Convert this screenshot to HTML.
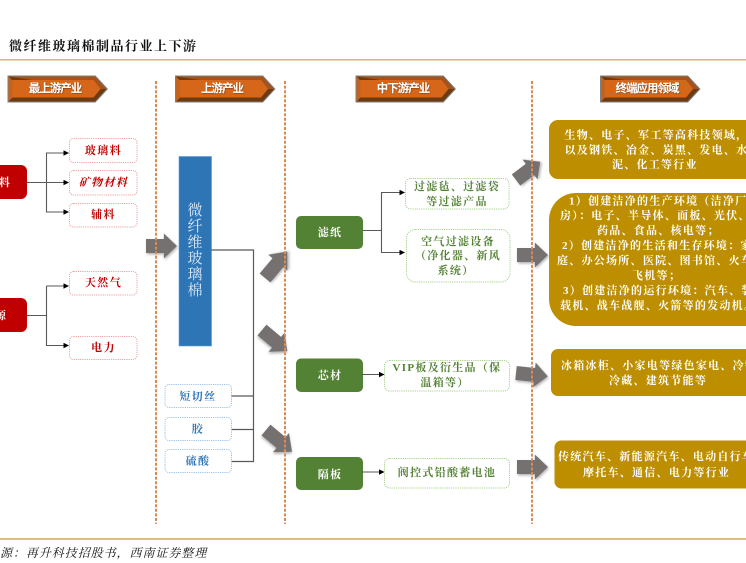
<!DOCTYPE html>
<html lang="zh">
<head>
<meta charset="utf-8">
<style>
html,body{margin:0;padding:0;background:#fff;width:746px;height:563px;overflow:hidden}
svg{display:block}
text{font-family:"Liberation Serif","Noto Serif CJK SC",serif;dominant-baseline:central}
.b{font-family:"Liberation Sans","Noto Sans CJK SC",sans-serif;font-size:11.5px;font-weight:700;fill:#fff;text-anchor:middle;letter-spacing:-1px;filter:url(#ts)}
.r{font-size:11px;font-weight:700;fill:#c00000;text-anchor:middle;letter-spacing:1.4px}
.bl{font-size:11px;font-weight:700;fill:#2e75b6;text-anchor:middle;letter-spacing:1.4px}
.g{font-size:11px;font-weight:700;fill:#548235;text-anchor:middle;letter-spacing:1.3px}
.w{font-size:11px;font-weight:700;fill:#fff;text-anchor:middle;letter-spacing:1.2px}
.y{font-size:11px;font-weight:700;fill:#fff;letter-spacing:1.26px}
.l{fill:none;stroke:#595959;stroke-width:1.1}
.dash{stroke:#d98b55;stroke-width:2;stroke-dasharray:3 1.6;fill:none}
.pr{fill:#fff;stroke:#eca3a3;stroke-width:1;stroke-dasharray:1.2 1}
.pb{fill:#fff;stroke:#9dc3e6;stroke-width:1;stroke-dasharray:1.2 1}
.pg{fill:#fff;stroke:#a9d18e;stroke-width:1;stroke-dasharray:1.2 1}
.bar{fill:#bd8f00}
.ar{fill:#767171;filter:url(#ds)}
</style>
</head>
<body>
<svg width="746" height="563" viewBox="0 0 746 563" xmlns="http://www.w3.org/2000/svg">
<defs>
<filter id="ds" x="-30%" y="-30%" width="170%" height="170%"><feDropShadow dx="1" dy="1.5" stdDeviation="1.4" flood-color="#000" flood-opacity=".3"/></filter>
<filter id="ts" x="-10%" y="-20%" width="120%" height="140%"><feDropShadow dx=".5" dy=".5" stdDeviation=".4" flood-color="#5a2a00" flood-opacity=".8"/></filter>
<marker id="m" viewBox="0 0 6 6" refX="5.5" refY="3" markerWidth="5.5" markerHeight="5.5" markerUnits="userSpaceOnUse" orient="auto"><path d="M0 0L6 3L0 6z" fill="#000"/></marker>
<g id="ban">
<polygon points="0,0 88,0 100.5,13.5 88,27 0,27" fill="#7f7f7f"/>
<polygon points="1,1 87.5,1 99,13.5 87.5,26 1,26" fill="#6e3a10"/>
<polygon points="1,1 87.5,1 99,13.5 86,13.5" fill="#a4541a"/>
<polygon points="1,1 5,5 5,22 1,26" fill="#c4631d"/>
<polygon points="5,4.5 86,4.5 93,13.5 86,22 5,22" fill="#d5661a"/>
</g>
<polygon id="a" points="0,-7 19,-7 19,-12.500 33,0 19,12.500 19,7 0,7"/>
</defs>

<text x="9" y="46" style="font-size:13px;font-weight:700;letter-spacing:1.5px;fill:#111">微纤维玻璃棉制品行业上下游</text>
<rect x="0" y="59" width="746" height="1.5" fill="#d8b283"/>
<rect x="0" y="538" width="746" height="2" fill="#dcbb87"/>
<text x="0" y="553" style="font-size:12px;font-style:italic;letter-spacing:.95px;fill:#111">源：再升科技招股书，西南证券整理</text>

<use href="#ban" x="7.5" y="75.5"/>
<use href="#ban" x="175" y="75.5"/>
<use href="#ban" x="355.5" y="75.5"/>
<use href="#ban" x="600" y="75.5"/>
<text class="b" x="55" y="89">最上游产业</text>
<text class="b" x="222" y="89">上游产业</text>
<text class="b" x="403" y="89">中下游产业</text>
<text class="b" x="647" y="89">终端应用领域</text>

<!-- left red -->
<rect x="-12" y="165" width="39" height="34" rx="6" fill="#c00000"/>
<rect x="-12" y="298" width="39" height="34" rx="6" fill="#c00000"/>
<text class="w" x="5" y="183">料</text>
<text class="w" x="1" y="316">源</text>
<path class="l" d="M27 182.500H46.500"/>
<path class="l" d="M27 315.500H46.500"/>
<path class="l" d="M68.500 153H46.500V212H68.500" marker-end="url(#m)"/>
<path class="l" d="M46.500 153H68.500" marker-end="url(#m)"/>
<path class="l" d="M46.500 182.500H68.500" marker-end="url(#m)"/>
<path class="l" d="M46.500 286H68.500" marker-end="url(#m)"/>
<path class="l" d="M46.500 286V345.500H68.500" marker-end="url(#m)"/>
<rect class="pr" x="69.500" y="138.500" width="67.500" height="24" rx="4"/>
<rect class="pr" x="69.500" y="170.500" width="67.500" height="24.500" rx="4"/>
<rect class="pr" x="69.500" y="203.500" width="67.500" height="23.500" rx="4"/>
<rect class="pr" x="69.500" y="271.500" width="67.500" height="23.500" rx="4"/>
<rect class="pr" x="69.500" y="336.500" width="67.500" height="23" rx="4"/>
<text class="r" x="103.500" y="151">玻璃料</text>
<text class="r" x="103.500" y="183" style="font-style:italic">矿物材料</text>
<text class="r" x="103.500" y="215">辅料</text>
<text class="r" x="103.500" y="283">天然气</text>
<text class="r" x="103.500" y="348">电力</text>

<!-- blue -->
<rect x="179" y="156.500" width="32.500" height="189.500" fill="#2e75b6" stroke="#5b9bd5" stroke-width=".6"/>
<g style="font-size:15px;fill:#dce9f5" text-anchor="middle">
<text x="195" y="211">微</text><text x="195" y="227">纤</text><text x="195" y="243">维</text>
<text x="195" y="259">玻</text><text x="195" y="275">璃</text><text x="195" y="291">棉</text>
</g>
<path class="l" d="M211.500 250H253.500V461.500H231.500M231.500 396H253.500M231.500 429.500H253.500" style="stroke-width:1.2"/>
<rect class="pb" x="165" y="384.500" width="66.500" height="23" rx="4"/>
<rect class="pb" x="165" y="417.500" width="66.500" height="23" rx="4"/>
<rect class="pb" x="165" y="449.500" width="66.500" height="23" rx="4"/>
<text class="bl" x="198" y="397">短切丝</text>
<text class="bl" x="198" y="429.500">胶</text>
<text class="bl" x="198" y="461.500">硫酸</text>

<!-- green -->
<rect x="296" y="216" width="67" height="33" rx="5" fill="#548235"/>
<rect x="296" y="358.500" width="67" height="33.500" rx="5" fill="#548235"/>
<rect x="296" y="457" width="67" height="33" rx="5" fill="#548235"/>
<text class="w" x="330" y="233">滤纸</text>
<text class="w" x="330" y="376">芯材</text>
<text class="w" x="330" y="475">隔板</text>
<path class="l" d="M363 230.500H381.500"/>
<path class="l" d="M404.500 192.500H381.500V252.500H404.500" marker-end="url(#m)"/>
<path class="l" d="M381.500 192.500H404.500" marker-end="url(#m)"/>
<path class="l" d="M361 374.500H384" marker-end="url(#m)"/>
<path class="l" d="M361 472H384" marker-end="url(#m)"/>
<rect class="pg" x="405.500" y="178.500" width="103.500" height="30.500" rx="5"/>
<rect class="pg" x="406.500" y="229.500" width="103.500" height="52.500" rx="9"/>
<rect class="pg" x="384.500" y="360.500" width="125" height="30.500" rx="5"/>
<rect class="pg" x="384.500" y="458.500" width="125" height="29.500" rx="5"/>
<text class="g" x="457" y="187">过滤毡、过滤袋</text>
<text class="g" x="457" y="202">等过滤产品</text>
<text class="g" x="458" y="242">空气过滤设备</text>
<text class="g" x="458" y="256">（净化器、新风</text>
<text class="g" x="456" y="271">系统）</text>
<text class="g" x="447" y="368">VIP板及衍生品（保</text>
<text class="g" x="445" y="383">温箱等）</text>
<text class="g" x="447" y="473">阀控式铅酸蓄电池</text>

<!-- yellow -->
<rect class="bar" x="549" y="120" width="230" height="59" rx="9"/>
<rect class="bar" x="549" y="193" width="230" height="133" rx="27"/>
<rect class="bar" x="551" y="349" width="230" height="47" rx="7"/>
<rect class="bar" x="554.500" y="440.500" width="230" height="48" rx="7"/>
<text class="y" x="564.500" y="135.500">生物、电子、军工等高科技领域，</text>
<text class="y" x="564.500" y="150.500">以及钢铁、冶金、炭黑、发电、水</text>
<text class="y" x="612" y="165">泥、化工等行业</text>
<text class="y" x="569" y="201.500">1）创建洁净的生产环境（洁净厂</text>
<text class="y" x="560" y="216">房）：电子、半导体、面板、光伏、</text>
<text class="y" x="597" y="231">药品、食品、核电等；</text>
<text class="y" x="562" y="246">2）创建洁净的生活和生存环境：家</text>
<text class="y" x="557" y="261">庭、办公场所、医院、图书馆、火车</text>
<text class="y" x="632" y="276">飞机等；</text>
<text class="y" x="563" y="291">3）创建洁净的运行环境：汽车、装</text>
<text class="y" x="560" y="306">载机、战车战舰、火箭等的发动机。</text>
<text class="y" x="561" y="366">冰箱冰柜、小家电等绿色家电、冷链</text>
<text class="y" x="609" y="381">冷藏、建筑节能等</text>
<text class="y" x="558" y="457">传统汽车、新能源汽车、电动自行车</text>
<text class="y" x="583" y="473">摩托车、通信、电力等行业</text>

<!-- gray arrows -->
<use href="#a" class="ar" transform="translate(146 246) scale(.94 1)"/>
<use href="#a" class="ar" transform="translate(265 278) rotate(-50) scale(1.05 1)"/>
<use href="#a" class="ar" transform="translate(262 330) rotate(40) scale(1 1)"/>
<use href="#a" class="ar" transform="translate(266 430) rotate(40) scale(1.03 1)"/>
<use href="#a" class="ar" transform="translate(516 180) rotate(-37) scale(.92 1)"/>
<use href="#a" class="ar" transform="translate(517 255) scale(.94 1)"/>
<use href="#a" class="ar" transform="translate(516 373) rotate(6) scale(.97 1)"/>
<use href="#a" class="ar" transform="translate(517 467) scale(.94 1)"/>

<path class="dash" d="M156 81V524"/>
<path class="dash" d="M285 81V524"/>
<path class="dash" d="M532 81V524"/>
</svg>
</body>
</html>
